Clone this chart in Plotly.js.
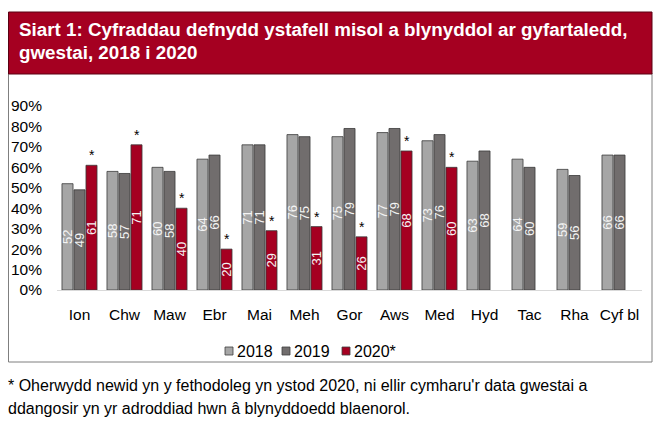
<!DOCTYPE html>
<html>
<head>
<meta charset="utf-8">
<script src="https://cdn.plot.ly/plotly-3.0.1.min.js"></script>
<style>
  html, body { margin: 0; padding: 0; background: #fff; }
  #chart { width: 665px; height: 426px; }
</style>
</head>
<body>
<div id="chart"></div>
<script>
"use strict";

// Misoedd (Welsh month abbreviations) + yearly average
const months = ['Ion', 'Chw', 'Maw', 'Ebr', 'Mai', 'Meh', 'Gor', 'Aws', 'Med', 'Hyd', 'Tac', 'Rha', 'Cyf bl'];

const occ2018 = [52, 58, 60, 64, 71, 76, 75, 77, 73, 63, 64, 59, 66];
const occ2019 = [49, 57, 58, 66, 71, 75, 79, 79, 76, 68, 60, 56, 66];
const occ2020 = [61, 71, 40, 20, 29, 31, 26, 68, 60, null, null, null, null];

const seriesNames = ['2018', '2019', '2020*'];
const yTicks = [0, 10, 20, 30, 40, 50, 60, 70, 80, 90];

const titleLines = [
    'Siart 1: Cyfraddau defnydd ystafell misol a blynyddol ar gyfartaledd,',
    'gwestai, 2018 i 2020'
];
const noteLines = [
    "* Oherwydd newid yn y fethodoleg yn ystod 2020, ni ellir cymharu'r data gwestai a",
    'ddangosir yn yr adroddiad hwn â blynyddoedd blaenorol.'
];

// plot area in pixels
const W = 665, H = 426;
const M = { l: 57, r: 23, t: 106, b: 136 };
const plotW = W - M.l - M.r;
const plotH = H - M.t - M.b;
const px2x = px => (px - M.l) / plotW;
const py2y = py => (H - M.b - py) / plotH;

const FONT = 'Liberation Sans, Arial, sans-serif';
const colours = ['#a6a6a6', '#716d6d', '#a50021'];

function barTrace(name, values, colour) {
    return {
        type: 'bar',
        name: name,
        x: months,
        y: values,
        text: values.map(v => v == null ? '' : String(v)),
        textposition: 'inside',
        insidetextanchor: 'middle',
        textangle: -90,
        constraintext: 'none',
        textfont: { family: FONT, size: 13, color: '#f4f4f4' },
        hoverinfo: 'x+y+name',
        cliponaxis: false,
        showlegend: false,
        marker: { color: colour, line: { color: '#3a3a3a', width: 0.8 } }
    };
}

const data = [
    barTrace(seriesNames[0], occ2018, colours[0]),
    barTrace(seriesNames[1], occ2019, colours[1]),
    barTrace(seriesNames[2], occ2020, colours[2])
];

// asterisks above the 2020 bars
const starNotes = [];
occ2020.forEach((v, i) => {
    if (v == null) return;
    starNotes.push({
        x: months[i], y: v, xref: 'x', yref: 'y',
        text: '*', showarrow: false,
        xshift: 12, yshift: 0, yanchor: 'bottom',
        font: { family: FONT, size: 14, color: '#000' }
    });
});

// hand-made legend (tight square + label like the original)
const legendLeft = [225, 282, 342];
const legendShapes = [];
const legendNotes = [];
seriesNames.forEach((name, i) => {
    const x0 = legendLeft[i];
    legendShapes.push({
        type: 'rect', xref: 'paper', yref: 'paper',
        x0: px2x(x0), x1: px2x(x0 + 8), y0: py2y(355), y1: py2y(347),
        fillcolor: colours[i], line: { color: '#404040', width: 0.8 }
    });
    legendNotes.push({
        xref: 'paper', yref: 'paper', x: px2x(x0 + 10), y: py2y(351),
        xanchor: 'left', yanchor: 'middle', showarrow: false,
        text: name, font: { family: FONT, size: 16, color: '#000' }
    });
});

const layout = {
    width: W,
    height: H,
    margin: M,
    paper_bgcolor: '#fff',
    plot_bgcolor: 'rgba(0,0,0,0)',
    font: { family: FONT, size: 15.5, color: '#000' },
    barmode: 'group',
    bargap: 0.2,
    bargroupgap: 0.08,
    showlegend: false,
    xaxis: {
        type: 'category',
        showgrid: false,
        showline: true,
        linecolor: '#d9d9d9',
        linewidth: 1,
        ticks: '',
        ticklabelstandoff: 10,
        tickfont: { family: FONT, size: 15.5, color: '#000' },
        fixedrange: true
    },
    yaxis: {
        range: [0, 90],
        tickvals: yTicks,
        ticktext: yTicks.map(t => t + '%'),
        showgrid: false,
        zeroline: false,
        showline: false,
        ticks: '',
        ticklabelstandoff: 14,
        tickfont: { family: FONT, size: 15.5, color: '#000' },
        fixedrange: true
    },
    shapes: [
        // chart frame
        { type: 'rect', xref: 'paper', yref: 'paper', layer: 'below',
          x0: px2x(8.5), x1: px2x(652), y0: py2y(362), y1: py2y(73),
          line: { color: '#7f7f7f', width: 1 }, fillcolor: 'rgba(0,0,0,0)' },
        // title banner
        { type: 'rect', xref: 'paper', yref: 'paper', layer: 'below',
          x0: px2x(8.5), x1: px2x(652), y0: py2y(74), y1: py2y(12),
          line: { color: '#5a0012', width: 1 }, fillcolor: '#a50021' },
        ...legendShapes
    ],
    annotations: [
        { xref: 'paper', yref: 'paper', x: px2x(17), y: py2y(29.5),
          xanchor: 'left', yanchor: 'middle', showarrow: false,
          text: '<b>' + titleLines[0] + '</b>',
          font: { family: FONT, size: 18.8, color: '#fff' } },
        { xref: 'paper', yref: 'paper', x: px2x(17), y: py2y(52),
          xanchor: 'left', yanchor: 'middle', showarrow: false,
          text: '<b>' + titleLines[1] + '</b>',
          font: { family: FONT, size: 18.8, color: '#fff' } },
        { xref: 'paper', yref: 'paper', x: px2x(6), y: py2y(385),
          xanchor: 'left', yanchor: 'middle', showarrow: false,
          text: noteLines[0], font: { family: FONT, size: 16, color: '#000' } },
        { xref: 'paper', yref: 'paper', x: px2x(6), y: py2y(408),
          xanchor: 'left', yanchor: 'middle', showarrow: false,
          text: noteLines[1], font: { family: FONT, size: 16, color: '#000' } },
        ...legendNotes,
        ...starNotes
    ]
};

Plotly.newPlot('chart', data, layout, { displayModeBar: false, staticPlot: true });
</script>
</body>
</html>
